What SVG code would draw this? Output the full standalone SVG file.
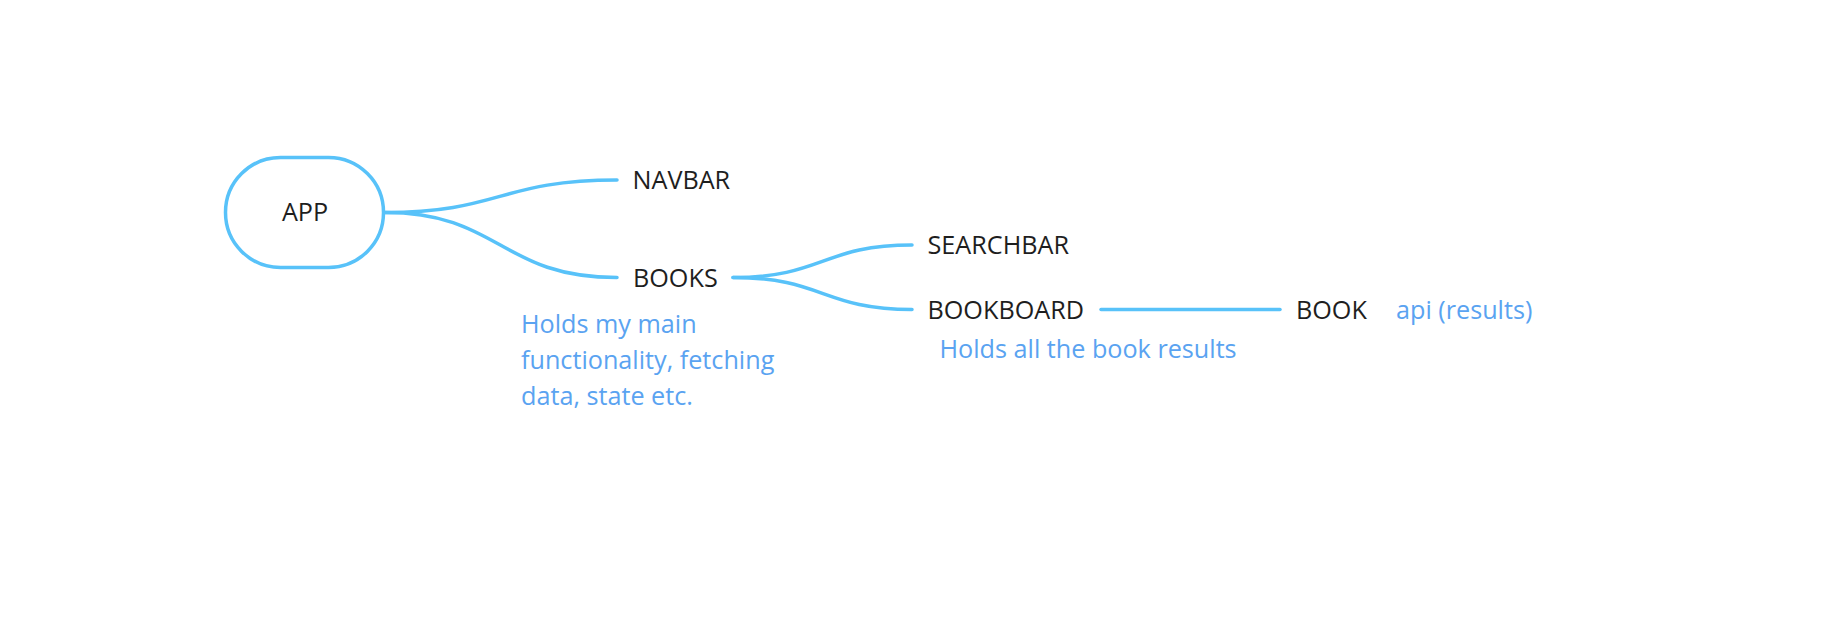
<svg xmlns="http://www.w3.org/2000/svg" width="1832" height="618" viewBox="0 0 1832 618">
<style>
.edge{fill:none;stroke:#58C2F9;stroke-width:3.5;stroke-linecap:round}
.box{fill:#ffffff;stroke:#58C2F9;stroke-width:3.5}
.lbl{font-family:"Open Sans","Noto Sans",sans-serif;font-size:25.2px;fill:#1e1e1e}
.note{font-family:"Open Sans","Noto Sans",sans-serif;font-size:25.2px;fill:#5AA3F1}
</style>
<rect width="1832" height="618" fill="#ffffff"/>
<g id="connectors">
<path class="edge" d="M385,212.5 C500,212.5 500,180 617,180"/>
<path class="edge" d="M385,212.5 C500,212.5 500,277.5 617,277.5"/>
<path class="edge" d="M733,277.5 C823,277.5 823,245 912,245"/>
<path class="edge" d="M733,277.5 C823,277.5 823,309.5 912,309.5"/>
<path class="edge" d="M1101,309.5 L1280,309.5"/>
</g>
<g id="app">
<rect class="box" x="225.5" y="157.5" width="158" height="110" rx="55" ry="55"/>
<text class="lbl" x="305" y="221" text-anchor="middle">APP</text>
</g>
<g id="navbar"><text class="lbl" x="632.5" y="189">NAVBAR</text></g>
<g id="books">
<text class="lbl" x="633" y="287">BOOKS</text>
<text class="note" x="521" y="333">Holds my main</text>
<text class="note" x="521" y="369">functionality, fetching</text>
<text class="note" x="521" y="405">data, state etc.</text>
</g>
<g id="searchbar"><text class="lbl" x="927.5" y="254">SEARCHBAR</text></g>
<g id="bookboard">
<text class="lbl" x="927.5" y="318.5">BOOKBOARD</text>
<text class="note" x="939.5" y="358">Holds all the book results</text>
</g>
<g id="book">
<text class="lbl" x="1296" y="319">BOOK</text>
<text class="note" x="1396" y="319">api (results)</text>
</g>
</svg>
